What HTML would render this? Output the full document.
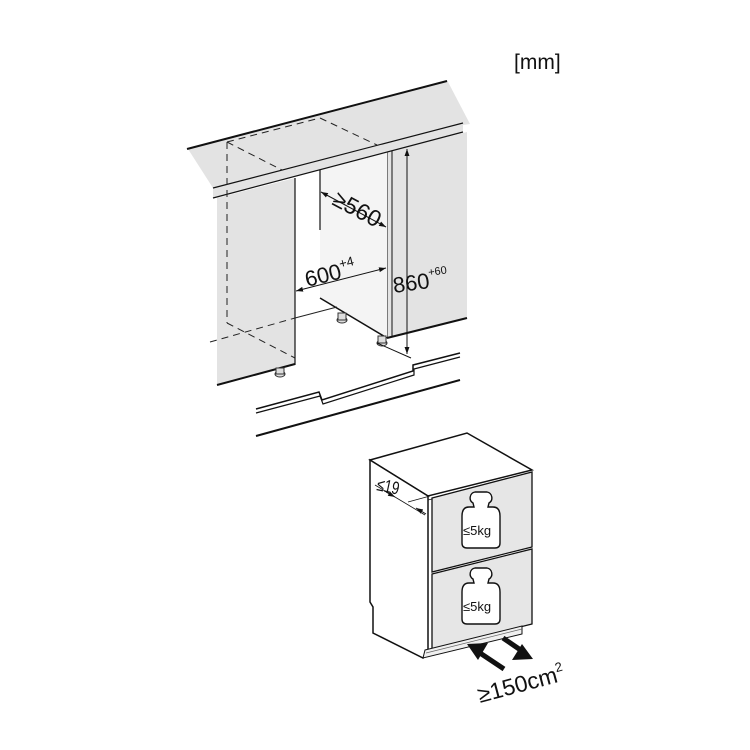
<!DOCTYPE html>
<html><head><meta charset="utf-8"><style>
html,body{margin:0;padding:0;background:#fff;}
svg{display:block;}
text{font-family:"Liberation Sans",Arial,sans-serif;fill:#111;}
</style></head><body>
<svg width="750" height="750" viewBox="0 0 750 750" xmlns="http://www.w3.org/2000/svg">
<defs>
<marker id="ar" viewBox="0 0 10 10" refX="10" refY="5" markerWidth="7" markerHeight="7" orient="auto-start-reverse" markerUnits="userSpaceOnUse"><path d="M0,1.5 L10,5 L0,8.5 z" fill="#111"/></marker>
</defs>
<text x="514" y="69" font-size="21">[mm]</text>

<polygon points="387,152 467,132 467,318 387,338" fill="#e3e3e3" stroke="none"/>
<line x1="467" y1="318" x2="387" y2="338" stroke="#111" stroke-width="2"/>
<line x1="387" y1="152" x2="387" y2="338" stroke="#111" stroke-width="1"/>
<line x1="392" y1="151" x2="392" y2="337" stroke="#111" stroke-width="1"/>
<polygon points="320,167 387,152 387,338 320,299" fill="#f4f4f4"/>
<line x1="320" y1="298" x2="387" y2="338" stroke="#111" stroke-width="1.5"/>
<line x1="320" y1="118" x2="320" y2="230" stroke="#111" stroke-width="1.2"/>

<polygon points="217,198 295,178 295,365 217,385" fill="#e3e3e3"/>
<line x1="295" y1="178" x2="295" y2="365" stroke="#111" stroke-width="1.2"/>
<line x1="217" y1="385" x2="295" y2="364" stroke="#111" stroke-width="2"/>

<polygon points="188,149 447,80 470,124 463,125 463,132 213,198 213,188" fill="#e3e3e3"/>
<line x1="187" y1="149" x2="447" y2="81" stroke="#111" stroke-width="2"/>
<line x1="213" y1="188" x2="463" y2="123" stroke="#111" stroke-width="1.2"/>
<line x1="213" y1="198" x2="463" y2="132" stroke="#111" stroke-width="1.2"/>

<g stroke="#222" stroke-width="1" stroke-dasharray="7,5" fill="none">
<line x1="227" y1="142" x2="320" y2="118"/>
<line x1="227" y1="142" x2="227" y2="323"/>
<line x1="227" y1="142" x2="282" y2="170"/>
<line x1="320" y1="118" x2="377" y2="145"/>
<line x1="210" y1="342" x2="295" y2="318"/>
<line x1="227" y1="323" x2="295" y2="358"/>
</g>
<line x1="295" y1="318" x2="337" y2="307" stroke="#222" stroke-width="1"/>

<g fill="#ddd" stroke="#333" stroke-width="1">
<ellipse cx="280" cy="374" rx="5" ry="3"/><rect x="276" y="368" width="8" height="6"/>
<ellipse cx="342" cy="320" rx="5" ry="3"/><rect x="338" y="313" width="8" height="7"/>
<ellipse cx="382" cy="343" rx="5" ry="3"/><rect x="378" y="336" width="8" height="7"/>
</g>

<line x1="321" y1="192" x2="386" y2="227" stroke="#111" stroke-width="1" marker-start="url(#ar)" marker-end="url(#ar)"/>
<text x="0" y="0" font-size="23" transform="translate(331,204) rotate(28)">≥560</text>
<line x1="296" y1="291" x2="386" y2="268" stroke="#111" stroke-width="1" marker-start="url(#ar)" marker-end="url(#ar)"/>
<text x="0" y="0" font-size="22" transform="translate(307,287) rotate(-14)">600<tspan font-size="13" dy="-10">+4</tspan></text>
<line x1="407" y1="149" x2="407" y2="354" stroke="#111" stroke-width="1" marker-start="url(#ar)" marker-end="url(#ar)"/>
<line x1="377" y1="343" x2="411" y2="358" stroke="#111" stroke-width="1"/>
<text x="0" y="0" font-size="22" transform="translate(394,293) rotate(-8)">860<tspan font-size="11" dy="-12">+60</tspan></text>

<polyline points="256,409 319,392 322,400 413,371 413,365 460,353" fill="none" stroke="#111" stroke-width="1.5"/>
<polyline points="256,413 320,396 323,404 414,375 414,369 460,357" fill="none" stroke="#111" stroke-width="1.2"/>
<line x1="256" y1="436" x2="460" y2="380" stroke="#111" stroke-width="2"/>

<polygon points="370,460 467,433 532,470 428,496" fill="#fff" stroke="#111" stroke-width="1.5"/>
<polygon points="370,460 428,496 428,650 423,658 373,633 373,607 370,602" fill="#fff" stroke="#111" stroke-width="1.5"/>
<line x1="428" y1="500" x2="532" y2="474" stroke="#111" stroke-width="0.8"/>
<polygon points="432,498 532,472 532,547 432,572" fill="#e6e6e6" stroke="#111" stroke-width="1.3"/>
<polygon points="432,574 532,549 532,624 432,649" fill="#e6e6e6" stroke="#111" stroke-width="1.3"/>
<polygon points="425,650 522,626 522,634 423,658" fill="#f0f0f0" stroke="#111" stroke-width="1"/>
<line x1="426" y1="653" x2="522" y2="629" stroke="#666" stroke-width="0.7"/>

<g fill="#fff" stroke="#111" stroke-width="1.4">
<path d="M475,492 h12 a6,6 0 0 1 2,11 l-1,4 h5 q7,0 7,9 v27 q0,5 -5,5 h-28 q-5,0 -5,-5 v-27 q0,-9 7,-9 h5 l-1,-4 a6,6 0 0 1 2,-11z"/>
<path d="M475,568 h12 a6,6 0 0 1 2,11 l-1,4 h5 q7,0 7,9 v27 q0,5 -5,5 h-28 q-5,0 -5,-5 v-27 q0,-9 7,-9 h5 l-1,-4 a6,6 0 0 1 2,-11z"/>
</g>
<text x="463" y="535" font-size="13">≤5kg</text>
<text x="463" y="611" font-size="13">≤5kg</text>

<line x1="375" y1="485" x2="425" y2="515" stroke="#111" stroke-width="0.8"/>
<line x1="408" y1="502" x2="430" y2="496" stroke="#111" stroke-width="0.8"/>
<line x1="386" y1="492" x2="395" y2="497" stroke="#111" stroke-width="1" marker-end="url(#ar)"/>
<line x1="426" y1="514" x2="416" y2="508" stroke="#111" stroke-width="1" marker-end="url(#ar)"/>
<text x="0" y="0" font-size="18" transform="translate(376,490) rotate(12) scale(0.75,1)">≤19</text>

<line x1="504" y1="669" x2="480" y2="653" stroke="#111" stroke-width="5"/>
<polygon points="467,644 488,643 478,660" fill="#111"/>
<line x1="503" y1="638" x2="522" y2="651" stroke="#111" stroke-width="5"/>
<polygon points="533,659 512,660 522,644" fill="#111"/>
<text x="0" y="0" font-size="23" transform="translate(480,703) rotate(-15)">≥150cm<tspan font-size="13" dy="-10">2</tspan></text>
</svg>
</body></html>
